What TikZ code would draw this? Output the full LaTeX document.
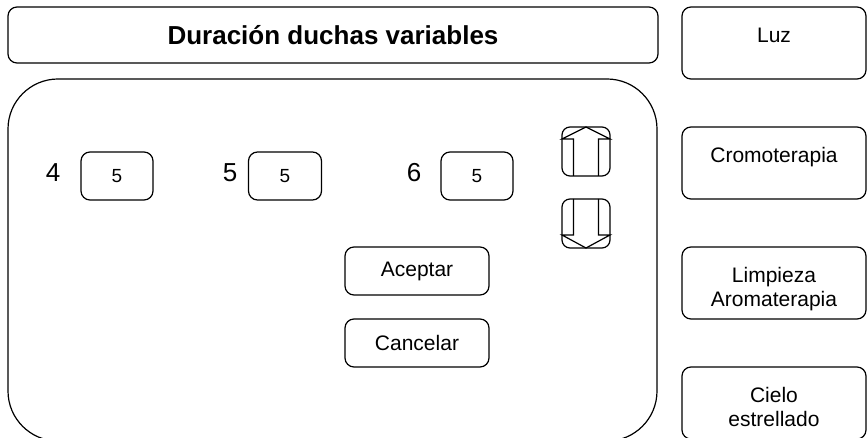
\documentclass[tikz,border=0pt]{standalone}
\usepackage{fontspec}
\setmainfont{Liberation Sans}
\usetikzlibrary{positioning}
\tikzset{
  box/.style={draw, line width=1.2pt, rounded corners=9pt, outer sep=0pt, inner sep=0pt},
  optbox/.style={box, minimum width=184pt, minimum height=72pt},
  opttext/.style={anchor=north, yshift=-20pt, inner sep=0pt, align=center,
    font=\fontsize{21}{24}\selectfont},
  valbox/.style={box, minimum width=72pt, minimum height=48pt, font=\fontsize{19}{22}\selectfont},
  btn/.style={box, minimum width=144pt, minimum height=48pt, font=\fontsize{21}{24}\selectfont},
  arrowbox/.style={box, rounded corners=8pt, minimum width=48pt, minimum height=49pt},
  num/.style={inner sep=0pt, font=\fontsize{26}{30}\selectfont}
}
\begin{document}
\begin{tikzpicture}[x=1pt, y=-1pt, line width=1.2pt]
                \useasboundingbox (0,0) rectangle (868,438);
                % Header and panel
                \node[box, minimum width=650pt, minimum height=56pt, font=\fontsize{26}{30}\selectfont\bfseries] (title) at (333,35) {Duración duchas variables};
                \node[box, rounded corners=50pt, minimum width=649pt, minimum height=362pt] (panel) at (332.5,260) {};
                % Options
                \node[optbox, label={[opttext]north:Luz}] (luz) at (774,43) {};
                \node[optbox, label={[opttext]north:Cromoterapia}] (cromo) at (774,163) {};
                \node[optbox, label={[opttext]north:Limpieza\\Aromaterapia}] (limpieza) at (774,283) {};
                \node[optbox, label={[opttext]north:Cielo\\estrellado}] (cielo) at (774,403) {};
                % Values
                \node[num] (n4) at (53,173) {4};
                \node[valbox] (v4) at (117,176) {5};
                \node[num] (n5) at (230,173) {5};
                \node[valbox, minimum width=73pt] (v5) at (285,176) {5};
                \node[num] (n6) at (414,173) {6};
                \node[valbox] (v6) at (477,176) {5};
                % Buttons
                \node[btn] (aceptar) at (417,271) {Aceptar};
                \node[btn] (cancelar) at (417,343) {Cancelar};
                % Up and down
                \node[arrowbox] (up) at (586,151.5) {};
                \node[arrowbox] (down) at (586,223.5) {};
                \draw ([xshift=-12.5pt]up.south) -- ([xshift=-12.5pt,yshift=-12pt]up.north)
                  -- ([yshift=-12pt]up.north west) -- (up.north) -- ([yshift=-12pt]up.north east)
                  -- ([xshift=12.5pt,yshift=-12pt]up.north) -- ([xshift=12.5pt]up.south);
                \draw ([xshift=-12.5pt]down.north) -- ([xshift=-12.5pt,yshift=13pt]down.south)
                  -- ([yshift=13pt]down.south west) -- (down.south) -- ([yshift=13pt]down.south east)
                  -- ([xshift=12.5pt,yshift=13pt]down.south) -- ([xshift=12.5pt]down.north);
            \end{tikzpicture}
\end{document}
